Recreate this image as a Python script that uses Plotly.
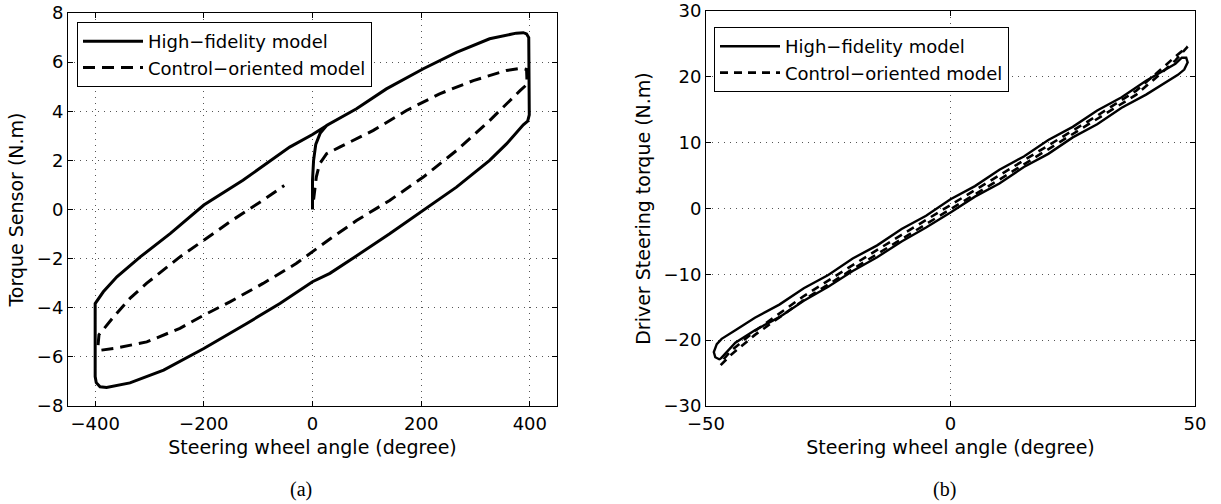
import plotly.graph_objects as go

# ---------------- Panel (a) data ----------------
hf_a_x = [0, 0, 2, 6, 14, 26, 81, 136, 204, 265, 326, 360, 375, 388, 394, 398,
          399, 399, 396, 388, 357, 326, 265, 204, 142, 80, 32, 0, -60, -121, -200,
          -274, -336, -379, -391, -398, -400, -400, -400, -385, -360, -317, -262,
          -200, -128, -42, 0, 30]
hf_a_y = [0, 1.2, 2.0, 2.65, 3.1, 3.42, 4.1, 4.91, 5.73, 6.4, 6.95, 7.12, 7.18, 7.2, 7.15, 7.0,
          5.5, 3.85, 3.6, 3.45, 2.67, 2.0, 0.91, -0.04, -0.99, -1.9, -2.6, -2.94, -3.83, -4.64, -5.66,
          -6.54, -7.06, -7.25, -7.22, -7.05, -6.8, -5.0, -3.83, -3.35, -2.74, -1.93, -0.98,
          0.18, 1.19, 2.54, 3.05, 3.47]

co_a_x = [2, 4, 7, 13, 26, 50, 112, 173, 234, 296, 357, 385, 394, 395, 382, 326, 265,
          204, 142, 81, 32, -30, -91, -152, -200, -244, -305, -366, -390, -395, -393,
          -366, -336, -305, -244, -200, -152, -91, -52]
co_a_y = [0.4, 0.8, 1.32, 1.86, 2.27, 2.54, 3.22, 4.03, 4.71, 5.25, 5.66, 5.75, 5.7, 5.1, 4.84, 3.62, 2.4,
          1.32, 0.37, -0.45, -1.2, -2.2, -3.01, -3.76, -4.3, -4.84, -5.39, -5.66, -5.73, -5.6, -5.1,
          -4.37, -3.62, -3.0, -1.93, -1.25, -0.5, 0.38, 0.98]

# ---------------- Panel (b) data ----------------
hf_b_x = [-47, -44, -40, -35, -30, -25, -20, -15, -10, -5, 0, 5, 10, 15, 20, 25, 30, 35, 40,
          44, 46.5, 47.8, 48.5, 48.2, 47.3, 46,
          44, 40, 35, 30, 25, 20, 15, 10, 5, 0, -5, -10, -15, -20, -25, -30, -35, -40,
          -44, -45.5, -46.8, -47.8, -48.4, -48.1, -47.3, -47]
hf_b_y = [-22.8, -20.4, -18.5, -16.5, -14.0, -11.9, -9.5, -7.4, -5.0, -2.9, -0.6, 1.8, 3.8, 6.3, 8.3, 10.8, 12.8, 15.3, 17.3,
          19.2, 20.3, 21.1, 22.2, 22.9, 22.9, 22.0,
          21.1, 19.4, 16.9, 14.9, 12.4, 10.4, 7.9, 5.9, 3.4, 1.4, -1.1, -3.1, -5.6, -7.6, -10.1, -12.1, -14.6, -16.6,
          -18.5, -19.2, -19.8, -20.6, -21.8, -22.6, -22.9, -22.8]

co_b_x = [-47, -45, -40, -30, -20, -10, 0, 10, 20, 30, 38, 43, 46, 48.5,
          46, 43, 38, 30, 20, 10, 0, -10, -20, -30, -40, -45, -46.5]
co_b_y = [-23.8, -22.3, -19.2, -13.9, -9.2, -4.6, -0.1, 4.4, 9.0, 13.5, 17.3, 20.5, 22.5, 24.6,
          23.1, 21.1, 17.9, 14.1, 9.6, 5.0, 0.5, -4.0, -8.6, -13.3, -18.6, -21.7, -23.0]

xa_ticks = [-400, -200, 0, 200, 400]
ya_ticks = [-8, -6, -4, -2, 0, 2, 4, 6, 8]
xb_ticks = [-50, 0, 50]
yb_ticks = [-30, -20, -10, 0, 10, 20, 30]

NAME_HF = "High\u2212fidelity model"
NAME_CO = "Control\u2212oriented model"
FONT = "DejaVu Sans"

fig = go.Figure()
fig.add_trace(go.Scatter(x=hf_a_x, y=hf_a_y, mode="lines", name=NAME_HF,
                         line=dict(color="black", width=3), xaxis="x", yaxis="y", legend="legend"))
fig.add_trace(go.Scatter(x=co_a_x, y=co_a_y, mode="lines", name=NAME_CO,
                         line=dict(color="black", width=3, dash="12px,7px"), xaxis="x", yaxis="y", legend="legend"))
fig.add_trace(go.Scatter(x=hf_b_x, y=hf_b_y, mode="lines", name=NAME_HF,
                         line=dict(color="black", width=2.4), xaxis="x2", yaxis="y2", legend="legend2"))
fig.add_trace(go.Scatter(x=co_b_x, y=co_b_y, mode="lines", name=NAME_CO,
                         line=dict(color="black", width=2.6, dash="8px,6px"), xaxis="x2", yaxis="y2", legend="legend2"))

ax = dict(showline=True, linecolor="black", linewidth=1, mirror="allticks", ticks="inside",
          ticklen=5, tickcolor="black", showgrid=True, gridcolor="#555555", griddash="1px,5px",
          gridwidth=1, zeroline=False, automargin=False,
          tickfont=dict(family=FONT, size=18, color="black"),
          title_font=dict(family=FONT, size=19, color="black"))

W, H = 1221, 504
L, R, T, B = 68, 26, 11, 98
pw, ph = W - L - R, H - T - B

def px(xp):
    return (xp - L) / pw

def py(yp):
    return (H - B - yp) / ph

fig.update_layout(
    template="none",
    width=W, height=H, autosize=False,
    margin=dict(l=L, r=R, t=T, b=B, autoexpand=False),
    paper_bgcolor="white", plot_bgcolor="white",
    xaxis=dict(ax, domain=[0, px(557)], range=[-450, 450], tickvals=xa_ticks, ticklabelstandoff=1,
               title=dict(text="Steering wheel angle (degree)", standoff=8), anchor="y"),
    yaxis=dict(ax, domain=[0, py(13)], range=[-8, 8], tickvals=ya_ticks,
               title=dict(text="Torque Sensor (N.m)", standoff=8), anchor="x"),
    xaxis2=dict(ax, domain=[px(706), 1], range=[-50, 50], tickvals=xb_ticks, ticklabelstandoff=1,
                title=dict(text="Steering wheel angle (degree)", standoff=8), anchor="y2"),
    yaxis2=dict(ax, domain=[0, 1], range=[-30, 30], tickvals=yb_ticks,
                title=dict(text="Driver Steering torque (N.m)", standoff=7), anchor="x2"),
    legend=dict(x=px(77), y=py(22), xanchor="left", yanchor="top", bgcolor="white",
                bordercolor="black", borderwidth=1, font=dict(family=FONT, size=18, color="black"),
                tracegroupgap=0, itemwidth=60),
    legend2=dict(x=px(714), y=py(27), xanchor="left", yanchor="top", bgcolor="white",
                 bordercolor="black", borderwidth=1, font=dict(family=FONT, size=18, color="black"),
                 tracegroupgap=0, itemwidth=60),
    annotations=[
        dict(text="(a)", x=px(301), y=py(489), xref="paper", yref="paper", showarrow=False,
             xanchor="center", yanchor="middle", font=dict(family="Liberation Serif", size=20, color="black")),
        dict(text="(b)", x=px(944), y=py(489), xref="paper", yref="paper", showarrow=False,
             xanchor="center", yanchor="middle", font=dict(family="Liberation Serif", size=20, color="black")),
    ],
    showlegend=True,
)

fig.write_html("out.html", config={"displayModeBar": False},
               post_script="document.body.style.margin='0px';document.body.style.padding='0px';")
